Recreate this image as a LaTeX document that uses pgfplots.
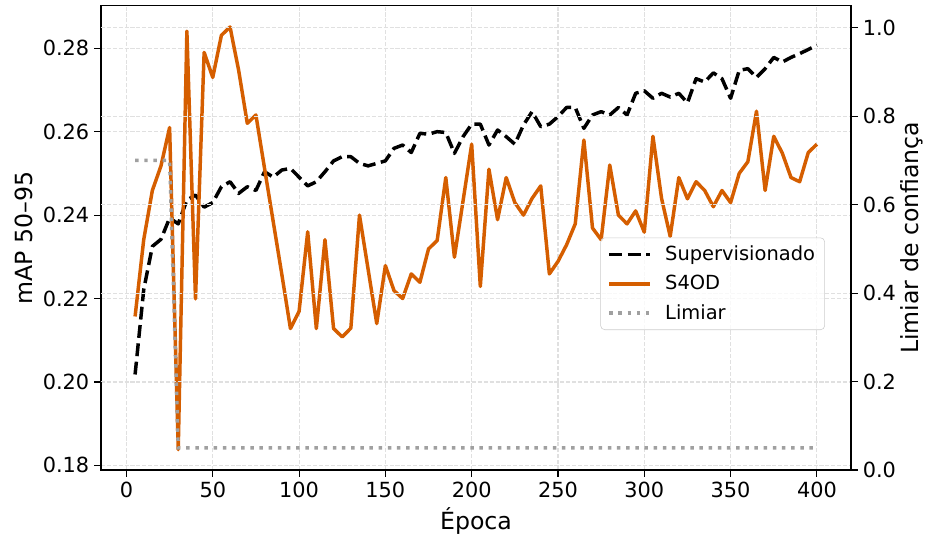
\documentclass[border=0pt]{standalone}
\usepackage{fontspec}
\setmainfont{DejaVu Sans}
\usepackage{pgfplots}
\pgfplotsset{compat=1.18}
\usepackage{pgfplotstable}

\definecolor{sfodorange}{RGB}{213,94,0}
\definecolor{limgray}{RGB}{160,160,160}
\definecolor{gridgray}{RGB}{224,224,224}
\definecolor{legedge}{RGB}{204,204,204}

% epoca, Supervisionado, S4OD, Limiar
\pgfplotstableread{
epoca sup s4od lim
5 0.2018 0.2157 0.70
10 0.2221 0.2341 0.70
15 0.2325 0.2459 0.70
20 0.2342 0.2518 0.70
25 0.2393 0.2610 0.70
30 0.2379 0.1838 0.05
35 0.2436 0.2841 0.05
40 0.2448 0.2199 0.05
45 0.2419 0.2790 0.05
50 0.2430 0.2730 0.05
55 0.2468 0.2831 0.05
60 0.2480 0.2851 0.05
65 0.2452 0.2747 0.05
70 0.2468 0.2620 0.05
75 0.2459 0.2640 0.05
80 0.2504 0.2512 0.05
85 0.2491 0.2385 0.05
90 0.2508 0.2258 0.05
95 0.2512 0.2128 0.05
100 0.2491 0.2169 0.05
105 0.2470 0.2360 0.05
110 0.2480 0.2128 0.05
115 0.2504 0.2341 0.05
120 0.2530 0.2128 0.05
125 0.2540 0.2108 0.05
130 0.2540 0.2129 0.05
135 0.2524 0.2400 0.05
140 0.2518 0.2270 0.05
145 0.2524 0.2140 0.05
150 0.2530 0.2279 0.05
155 0.2560 0.2219 0.05
160 0.2568 0.2200 0.05
165 0.2550 0.2259 0.05
170 0.2596 0.2239 0.05
175 0.2594 0.2319 0.05
180 0.2600 0.2339 0.05
185 0.2598 0.2490 0.05
190 0.2548 0.2299 0.05
195 0.2588 0.2434 0.05
200 0.2618 0.2570 0.05
205 0.2618 0.2229 0.05
210 0.2568 0.2510 0.05
215 0.2604 0.2389 0.05
220 0.2588 0.2490 0.05
225 0.2570 0.2430 0.05
230 0.2616 0.2400 0.05
235 0.2648 0.2440 0.05
240 0.2612 0.2470 0.05
245 0.2618 0.2259 0.05
250 0.2636 0.2289 0.05
255 0.2658 0.2329 0.05
260 0.2658 0.2379 0.05
265 0.2608 0.2580 0.05
270 0.2640 0.2369 0.05
275 0.2648 0.2341 0.05
280 0.2640 0.2520 0.05
285 0.2658 0.2400 0.05
290 0.2640 0.2379 0.05
295 0.2692 0.2410 0.05
300 0.2698 0.2359 0.05
305 0.2680 0.2589 0.05
310 0.2692 0.2440 0.05
315 0.2683 0.2349 0.05
320 0.2692 0.2490 0.05
325 0.2669 0.2439 0.05
330 0.2727 0.2480 0.05
335 0.2719 0.2459 0.05
340 0.2741 0.2420 0.05
345 0.2727 0.2459 0.05
350 0.2680 0.2430 0.05
355 0.2747 0.2500 0.05
360 0.2751 0.2528 0.05
365 0.2730 0.2649 0.05
370 0.2751 0.2459 0.05
375 0.2778 0.2589 0.05
380 0.2767 0.2548 0.05
385 0.2778 0.2490 0.05
390 0.2787 0.2480 0.05
395 0.2797 0.2550 0.05
400 0.2807 0.2570 0.05
}\dados

\pgfplotsset{
  base/.style={
    scale only axis, width=540pt, height=334.3pt,
    xmin=-14.75, xmax=419.75,
    tick align=outside, major tick length=5pt,
    tick style={black, line width=0.8pt},
    ticklabel style={font=\fontsize{15}{18}\selectfont},
    label style={font=\fontsize{17}{20}\selectfont},
    /pgf/number format/assume math mode=true,
    grid style={gridgray, line width=0.8pt, dash pattern=on 2.96pt off 1.28pt},
    axis line style={line width=0.9pt},
    scaled y ticks=false,
  },
}

\begin{document}
\begin{tikzpicture}
\begin{axis}[base, name=ax1,
  ymin=0.1789, ymax=0.2902,
  ytick={0.18,0.20,0.22,0.24,0.26,0.28},
  yticklabel style={/pgf/number format/.cd, fixed, fixed zerofill, precision=2},
  xtick={0,50,100,150,200,250,300,350,400},
  xtick pos=bottom, ytick pos=left,
  grid=major,
  xlabel={Época}, ylabel={mAP 50–95},
  xlabel style={at={(rel axis cs:0.5,0)}, anchor=center, yshift=-37pt},
  ylabel style={at={(rel axis cs:0,0.5)}, anchor=center, yshift=55.4pt},
]
\addplot[black, line width=2.5pt, line join=round, dash pattern=on 9.25pt off 4pt] table[x=epoca, y=sup] {\dados};
\addplot[sfodorange, line width=2.5pt, line join=round] table[x=epoca, y=s4od] {\dados};
\end{axis}

\begin{axis}[base, name=ax2,
  axis x line=none, axis y line*=right,
  ymin=0, ymax=1.05,
  ytick={0.2,0.4,0.6,0.8,1.0},
  extra y ticks={0}, extra y tick style={grid=none},
  yticklabel style={/pgf/number format/.cd, fixed, fixed zerofill, precision=1},
  extra y tick label={\pgfmathprintnumber[fixed, fixed zerofill, precision=1]{\tick}},
  ymajorgrids,
  ylabel={Limiar de confiança},
  ylabel style={at={(rel axis cs:1,0.5)}, anchor=center, yshift=-44pt},
  legend style={at={(0.9653,0.3015)}, anchor=south east,
    draw=legedge, rounded corners=3pt, fill=white, fill opacity=0.8, text opacity=1,
    font=\fontsize{14}{16}\selectfont, cells={anchor=west}, row sep=5pt, column sep=8pt,
    inner xsep=5pt, inner ysep=4pt},
  legend image code/.code={\draw[#1] (0pt,0pt) -- (29pt,0pt);},
]
\addlegendimage{black, line width=2.5pt, dash pattern=on 9.25pt off 4pt}
\addlegendentry{Supervisionado}
\addlegendimage{sfodorange, line width=2.5pt}
\addlegendentry{S4OD}
\addplot[limgray, line width=2.5pt, dash pattern=on 2.5pt off 4.1pt] table[x=epoca, y=lim] {\dados};
\addlegendentry{Limiar}
\end{axis}

\pgfresetboundingbox
\path[use as bounding box] ([xshift=-72.72pt, yshift=-51.12pt]ax1.south west) rectangle ([xshift=55.44pt, yshift=4.1pt]ax1.north east);
\end{tikzpicture}
\end{document}
